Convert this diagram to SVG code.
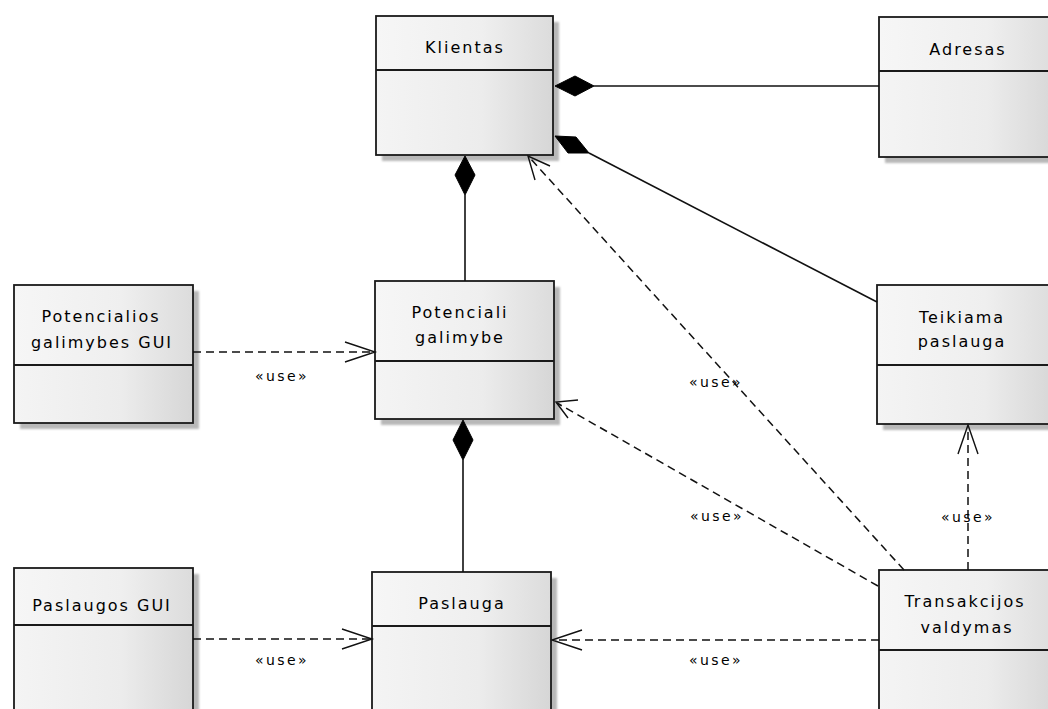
<svg xmlns="http://www.w3.org/2000/svg" width="1048" height="709" viewBox="0 0 1048 709">
  <defs>
    <linearGradient id="bodyFill" x1="0" y1="0" x2="1" y2="0">
      <stop offset="0" stop-color="#f4f4f4"/>
      <stop offset="0.6" stop-color="#ececec"/>
      <stop offset="1" stop-color="#d6d6d6"/>
    </linearGradient>
    <linearGradient id="headFill" x1="0" y1="0" x2="1" y2="0">
      <stop offset="0" stop-color="#f6f6f6"/>
      <stop offset="0.6" stop-color="#efefef"/>
      <stop offset="1" stop-color="#dcdcdc"/>
    </linearGradient>
    <filter id="soft" x="-10%" y="-10%" width="120%" height="120%">
      <feGaussianBlur stdDeviation="1.2"/>
    </filter>
  </defs>
  <style>
    .shadow { fill: #b8b8b8; filter: url(#soft); }
    .body { fill: url(#bodyFill); stroke: #1a1a1a; stroke-width: 1.8; }
    .head { fill: url(#headFill); stroke: none; }
    .sep { stroke: #1a1a1a; stroke-width: 1.8; }
    .name { font-family: "DejaVu Sans", sans-serif; font-size: 16px; fill: #000; text-anchor: middle; letter-spacing: 2px; }
    .lbl { font-family: "DejaVu Sans", sans-serif; font-size: 14px; fill: #000; text-anchor: middle; letter-spacing: 2.4px; }
    .solid { stroke: #111; stroke-width: 1.6; fill: none; }
    .dash { stroke: #111; stroke-width: 1.5; fill: none; stroke-dasharray: 8 5; }
    .open { stroke: #111; stroke-width: 1.4; fill: none; }
    .dia { fill: #000; stroke: #000; stroke-width: 1; }
  </style>
  <rect width="1048" height="709" fill="#ffffff"/>

  <!-- classes -->
  <g id="klientas">
    <rect class="shadow" x="382" y="22" width="177" height="139"/>
    <rect class="body" x="376" y="16" width="177" height="139"/>
    <rect class="head" x="377" y="17" width="175" height="53"/>
    <line class="sep" x1="376" y1="70" x2="553" y2="70"/>
    <text class="name" x="465" y="53">Klientas</text>
  </g>

  <g id="adresas">
    <rect class="shadow" x="885" y="23" width="180" height="140"/>
    <rect class="body" x="879" y="17" width="180" height="140"/>
    <rect class="head" x="880" y="18" width="178" height="53"/>
    <line class="sep" x1="879" y1="71" x2="1059" y2="71"/>
    <text class="name" x="968" y="55">Adresas</text>
  </g>

  <g id="potencialios-gui">
    <rect class="shadow" x="20" y="291" width="179" height="138"/>
    <rect class="body" x="14" y="285" width="179" height="138"/>
    <rect class="head" x="15" y="286" width="177" height="79"/>
    <line class="sep" x1="14" y1="365" x2="193" y2="365"/>
    <text class="name" x="101" y="322">Potencialios</text>
    <text class="name" x="102" y="348">galimybes GUI</text>
  </g>

  <g id="potenciali-galimybe">
    <rect class="shadow" x="381" y="287" width="179" height="138"/>
    <rect class="body" x="375" y="281" width="179" height="138"/>
    <rect class="head" x="376" y="282" width="177" height="79"/>
    <line class="sep" x1="375" y1="361" x2="554" y2="361"/>
    <text class="name" x="460" y="318">Potenciali</text>
    <text class="name" x="460" y="343">galimybe</text>
  </g>

  <g id="teikiama-paslauga">
    <rect class="shadow" x="883" y="291" width="180" height="139"/>
    <rect class="body" x="877" y="285" width="180" height="139"/>
    <rect class="head" x="878" y="286" width="178" height="79"/>
    <line class="sep" x1="877" y1="365" x2="1057" y2="365"/>
    <text class="name" x="962" y="323">Teikiama</text>
    <text class="name" x="962" y="347">paslauga</text>
  </g>

  <g id="paslaugos-gui">
    <rect class="shadow" x="20" y="574" width="179" height="150"/>
    <rect class="body" x="14" y="568" width="179" height="150"/>
    <rect class="head" x="15" y="569" width="177" height="56"/>
    <line class="sep" x1="14" y1="625" x2="193" y2="625"/>
    <text class="name" x="102" y="611">Paslaugos GUI</text>
  </g>

  <g id="paslauga">
    <rect class="shadow" x="378" y="578" width="179" height="150"/>
    <rect class="body" x="372" y="572" width="179" height="150"/>
    <rect class="head" x="373" y="573" width="177" height="53"/>
    <line class="sep" x1="372" y1="626" x2="551" y2="626"/>
    <text class="name" x="462" y="609">Paslauga</text>
  </g>

  <g id="transakcijos-valdymas">
    <rect class="shadow" x="885" y="576" width="180" height="150"/>
    <rect class="body" x="879" y="570" width="180" height="150"/>
    <rect class="head" x="880" y="571" width="178" height="79"/>
    <line class="sep" x1="879" y1="650" x2="1059" y2="650"/>
    <text class="name" x="965" y="607">Transakcijos</text>
    <text class="name" x="967" y="633">valdymas</text>
  </g>

  <!-- relations -->
  <g id="connectors">
    <!-- compositions -->
    <line class="solid" x1="594" y1="86" x2="879" y2="86"/>
    <polygon class="dia" points="555,86 575,76 594,86 575,96"/>

    <line class="solid" x1="589" y1="153" x2="877" y2="302"/>
    <polygon class="dia" points="555,136 576,137 589,153 568,153"/>

    <line class="solid" x1="465" y1="195" x2="465" y2="281"/>
    <polygon class="dia" points="465,156 475,175 465,195 455,175"/>

    <line class="solid" x1="463" y1="460" x2="463" y2="572"/>
    <polygon class="dia" points="463,420 473,440 463,460 453,440"/>

    <!-- usage dependencies -->
    <line class="dash" x1="193" y1="352" x2="374" y2="352"/>
    <polyline class="open" points="345,342 375,352 345,362"/>
    <text class="lbl" x="282" y="381">«use»</text>

    <line class="dash" x1="193" y1="639" x2="371" y2="639"/>
    <polyline class="open" points="342,629 372,639 342,649"/>
    <text class="lbl" x="282" y="665">«use»</text>

    <line class="dash" x1="879" y1="640" x2="553" y2="640"/>
    <polyline class="open" points="582,630 552,640 582,650"/>
    <text class="lbl" x="716" y="665">«use»</text>

    <line class="dash" x1="968" y1="570" x2="968" y2="426"/>
    <polyline class="open" points="958,454 968,425 978,454"/>
    <text class="lbl" x="968" y="522">«use»</text>

    <line class="dash" x1="878" y1="586" x2="557" y2="403"/>
    <polyline class="open" points="578,400 556,402 568,418"/>
    <text class="lbl" x="717" y="521">«use»</text>

    <line class="dash" x1="904" y1="570" x2="529" y2="157"/>
    <polyline class="open" points="535,180 528,156 550,166"/>
    <text class="lbl" x="716" y="387">«use»</text>
  </g>
</svg>
